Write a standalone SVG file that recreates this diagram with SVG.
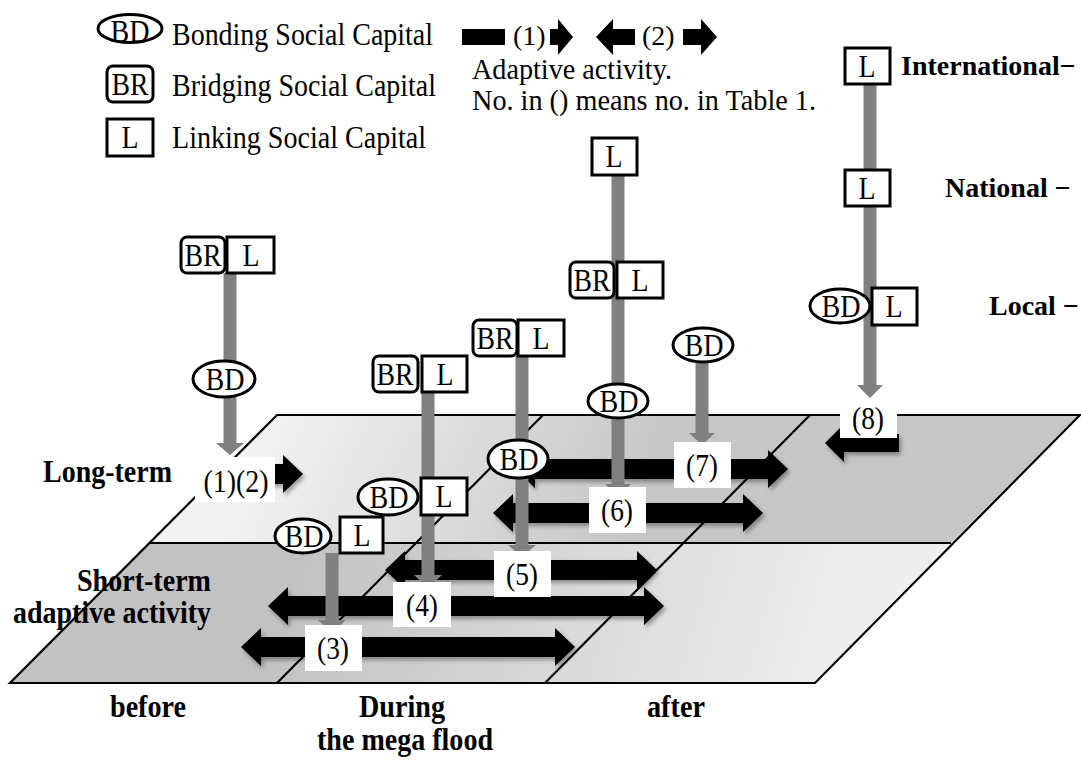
<svg xmlns="http://www.w3.org/2000/svg" width="1081" height="764" viewBox="0 0 1081 764">
<style>
text{font-family:"Liberation Serif","Times New Roman",serif;font-size:31px;fill:#000}
.b{font-weight:bold}
.m{text-anchor:middle}
.e{text-anchor:end}
.s{font-size:28px}
.nb{fill:#fff;stroke:#000;stroke-width:3}
.lb{fill:#fff}
.blk{fill:#000}
.pole{fill:#808080}
.ln{fill:none;stroke:#000;stroke-width:2.2}
</style>
<defs>
<linearGradient id="gTop" gradientUnits="userSpaceOnUse" x1="280" y1="410" x2="620" y2="560">
<stop offset="0" stop-color="#f2f2f2"/><stop offset="1" stop-color="#c6c6c6"/>
</linearGradient>
<linearGradient id="gBot" gradientUnits="userSpaceOnUse" x1="300" y1="540" x2="820" y2="690">
<stop offset="0" stop-color="#c2c2c2"/><stop offset="1" stop-color="#eeeeee"/>
</linearGradient>
<filter id="sh" x="-10%" y="-30%" width="120%" height="170%">
<feDropShadow dx="2" dy="3" stdDeviation="2" flood-color="#000" flood-opacity="0.35"/>
</filter>
</defs>

<g id="legend">
<ellipse class="nb" cx="130" cy="28.5" rx="32" ry="14"/>
<text class="m" x="130" y="42" textLength="39" lengthAdjust="spacingAndGlyphs">BD</text>
<text x="172" y="45" textLength="261" lengthAdjust="spacingAndGlyphs">Bonding Social Capital</text>
<rect class="nb" x="107" y="66" width="46" height="36" rx="6"/>
<text class="m" x="130" y="95" textLength="37" lengthAdjust="spacingAndGlyphs">BR</text>
<text x="172" y="96" textLength="264" lengthAdjust="spacingAndGlyphs">Bridging Social Capital</text>
<rect class="nb" x="107" y="119" width="46" height="37"/>
<text class="m" x="130" y="148" textLength="17" lengthAdjust="spacingAndGlyphs">L</text>
<text x="172" y="148" textLength="254" lengthAdjust="spacingAndGlyphs">Linking Social Capital</text>
<rect class="blk" x="462" y="29" width="43" height="16"/>
<text class="s" x="513" y="45">(1)</text>
<path class="blk" d="M550,29 L558,29 L558,19 L573,37 L558,55 L558,45 L550,45 Z"/>
<path class="blk" d="M596,37 L613,19 L613,29 L635,29 L635,45 L613,45 L613,55 Z"/>
<text class="s" x="642" y="45">(2)</text>
<path class="blk" d="M683,29 L701,29 L701,19 L717,37 L701,55 L701,45 L683,45 Z"/>
<text x="472" y="79" style="font-size:30px" textLength="200" lengthAdjust="spacingAndGlyphs">Adaptive activity.</text>
<text x="472" y="110" style="font-size:30px" textLength="344" lengthAdjust="spacingAndGlyphs">No. in () means no. in Table 1.</text>
</g>

<g id="platform">
<path d="M277,415 L1080,415 L951,543 L150,543 Z" fill="url(#gTop)"/>
<path d="M150,543 L951,543 L815,683 L10,683 Z" fill="url(#gBot)"/>
<path class="ln" d="M277,415 L1080,415 L815,683 L10,683 Z"/>
<path class="ln" d="M150,543 L951,543"/>
<path class="ln" d="M543,415 L277,683"/>
<path class="ln" d="M810,415 L545,683"/>
</g>

<g id="labels">
<text class="b" x="43" y="482" textLength="129" lengthAdjust="spacingAndGlyphs">Long-term</text>
<text class="b e" x="211" y="591" textLength="134" lengthAdjust="spacingAndGlyphs">Short-term</text>
<text class="b e" x="211" y="623" textLength="198" lengthAdjust="spacingAndGlyphs">adaptive activity</text>
<text class="b s" x="901" y="75">International−</text>
<text class="b s" x="945" y="197">National −</text>
<text class="b s" x="989" y="315">Local −</text>
<text class="b m" x="148" y="717" textLength="76" lengthAdjust="spacingAndGlyphs">before</text>
<text class="b m" x="402" y="717" textLength="86" lengthAdjust="spacingAndGlyphs">During</text>
<text class="b m" x="405" y="750" textLength="176" lengthAdjust="spacingAndGlyphs">the mega flood</text>
<text class="b m" x="676" y="717" textLength="58" lengthAdjust="spacingAndGlyphs">after</text>
</g>

<g id="connectors">
<g filter="url(#sh)">
<path class="blk" d="M515,469 L535,450 L535,459 L768,459 L768,450 L788,469 L768,488 L768,479 L535,479 L535,488 Z"/>
<path class="blk" d="M493,513 L513,494 L513,503 L743,503 L743,494 L763,513 L743,532 L743,523 L513,523 L513,532 Z"/>
<path class="blk" d="M385,570 L405,551 L405,560 L637,560 L637,551 L657,570 L637,589 L637,580 L405,580 L405,589 Z"/>
<path class="blk" d="M268,606 L288,587 L288,596 L644,596 L644,587 L664,606 L644,625 L644,616 L288,616 L288,625 Z"/>
<path class="blk" d="M241,647 L261,628 L261,637 L555,637 L555,628 L575,647 L555,666 L555,657 L261,657 L261,666 Z"/>
<path class="blk" d="M240,464 L283,464 L283,455 L303,474 L283,493 L283,484 L240,484 Z"/>
<path class="blk" d="M825,443 L844,424 L844,434 L899,434 L899,452 L844,452 L844,462 Z"/>
</g>
<path class="pole" d="M223.5,273 L236.5,273 L236.5,443 L244,443 L230,455 L216,443 L223.5,443 Z"/>
<path class="pole" d="M421.5,392 L434.5,392 L434.5,575 L442,575 L428,588 L414,575 L421.5,575 Z"/>
<path class="pole" d="M515.5,356 L528.5,356 L528.5,545 L536,545 L522,557 L508,545 L515.5,545 Z"/>
<path class="pole" d="M611.5,175 L624.5,175 L624.5,484 L631,484 L618,497 L605,484 L611.5,484 Z"/>
<path class="pole" d="M695.5,363 L708.5,363 L708.5,433 L715,433 L702,445 L689,433 L695.5,433 Z"/>
<path class="pole" d="M325.5,553 L338.5,553 L338.5,620 L346,620 L332,633 L318,620 L325.5,620 Z"/>
<path class="pole" d="M863.5,84 L876.5,84 L876.5,385 L883,385 L870,398 L857,385 L863.5,385 Z"/>
</g>

<g id="act12"><rect class="lb" x="195" y="457" width="80" height="45"/><text class="m" x="236" y="492" textLength="65" lengthAdjust="spacingAndGlyphs">(1)(2)</text></g>
<g id="act3"><rect class="lb" x="305" y="625" width="57" height="46"/><text class="m" x="333" y="659" textLength="32" lengthAdjust="spacingAndGlyphs">(3)</text></g>
<g id="act4"><rect class="lb" x="393" y="582" width="58" height="45"/><text class="m" x="422" y="616" textLength="32" lengthAdjust="spacingAndGlyphs">(4)</text></g>
<g id="act5"><rect class="lb" x="494" y="551" width="57" height="46"/><text class="m" x="522" y="585" textLength="32" lengthAdjust="spacingAndGlyphs">(5)</text></g>
<g id="act6"><rect class="lb" x="589" y="487" width="57" height="46"/><text class="m" x="617" y="521" textLength="32" lengthAdjust="spacingAndGlyphs">(6)</text></g>
<g id="act7"><rect class="lb" x="674" y="442" width="57" height="46"/><text class="m" x="702" y="476" textLength="32" lengthAdjust="spacingAndGlyphs">(7)</text></g>
<g id="act8"><rect class="lb" x="840" y="402" width="57" height="36"/><text class="m" x="868" y="429" textLength="32" lengthAdjust="spacingAndGlyphs">(8)</text></g>

<g id="nodeA">
<rect class="nb" x="181" y="237" width="44" height="36" rx="6"/><text class="m" x="203" y="266" textLength="37" lengthAdjust="spacingAndGlyphs">BR</text>
<rect class="nb" x="227" y="237" width="47" height="36"/><text class="m" x="251" y="266" textLength="17" lengthAdjust="spacingAndGlyphs">L</text>
</g>
<g id="nodeA2"><ellipse class="nb" cx="224" cy="379" rx="31" ry="18"/><text class="m" x="225" y="390" textLength="39" lengthAdjust="spacingAndGlyphs">BD</text></g>
<g id="nodeB">
<rect class="nb" x="373" y="356" width="45" height="36" rx="6"/><text class="m" x="395" y="385" textLength="37" lengthAdjust="spacingAndGlyphs">BR</text>
<rect class="nb" x="422" y="356" width="45" height="36"/><text class="m" x="445" y="385" textLength="17" lengthAdjust="spacingAndGlyphs">L</text>
</g>
<g id="nodeB2">
<ellipse class="nb" cx="388" cy="497" rx="30" ry="18"/><text class="m" x="389" y="508" textLength="39" lengthAdjust="spacingAndGlyphs">BD</text>
<rect class="nb" x="421" y="478" width="46" height="37"/><text class="m" x="444" y="507" textLength="17" lengthAdjust="spacingAndGlyphs">L</text>
</g>
<g id="nodeB3">
<ellipse class="nb" cx="303" cy="536" rx="28" ry="17"/><text class="m" x="304" y="547" textLength="39" lengthAdjust="spacingAndGlyphs">BD</text>
<rect class="nb" x="340" y="517" width="43" height="36"/><text class="m" x="362" y="546" textLength="17" lengthAdjust="spacingAndGlyphs">L</text>
</g>
<g id="nodeC">
<rect class="nb" x="473" y="320" width="44" height="36" rx="6"/><text class="m" x="495" y="349" textLength="37" lengthAdjust="spacingAndGlyphs">BR</text>
<rect class="nb" x="518" y="320" width="46" height="36"/><text class="m" x="541" y="349" textLength="17" lengthAdjust="spacingAndGlyphs">L</text>
</g>
<g id="nodeC2"><ellipse class="nb" cx="518" cy="459" rx="30" ry="19"/><text class="m" x="519" y="470" textLength="39" lengthAdjust="spacingAndGlyphs">BD</text></g>
<g id="nodeD1"><rect class="nb" x="592" y="138" width="45" height="37"/><text class="m" x="614" y="167" textLength="17" lengthAdjust="spacingAndGlyphs">L</text></g>
<g id="nodeD2">
<rect class="nb" x="570" y="262" width="44" height="36" rx="6"/><text class="m" x="592" y="291" textLength="37" lengthAdjust="spacingAndGlyphs">BR</text>
<rect class="nb" x="617" y="262" width="46" height="36"/><text class="m" x="640" y="291" textLength="17" lengthAdjust="spacingAndGlyphs">L</text>
</g>
<g id="nodeD3"><ellipse class="nb" cx="618" cy="401" rx="30" ry="17"/><text class="m" x="619" y="412" textLength="39" lengthAdjust="spacingAndGlyphs">BD</text></g>
<g id="nodeE"><ellipse class="nb" cx="703" cy="345" rx="30" ry="17"/><text class="m" x="704" y="356" textLength="39" lengthAdjust="spacingAndGlyphs">BD</text></g>
<g id="nodeF1"><rect class="nb" x="845" y="48" width="45" height="36"/><text class="m" x="867" y="77" textLength="17" lengthAdjust="spacingAndGlyphs">L</text></g>
<g id="nodeF2"><rect class="nb" x="845" y="170" width="45" height="36"/><text class="m" x="867" y="199" textLength="17" lengthAdjust="spacingAndGlyphs">L</text></g>
<g id="nodeF3">
<ellipse class="nb" cx="840" cy="306" rx="30" ry="17"/><text class="m" x="841" y="317" textLength="39" lengthAdjust="spacingAndGlyphs">BD</text>
<rect class="nb" x="872" y="288" width="45" height="37"/><text class="m" x="894" y="317" textLength="17" lengthAdjust="spacingAndGlyphs">L</text>
</g>
</svg>
